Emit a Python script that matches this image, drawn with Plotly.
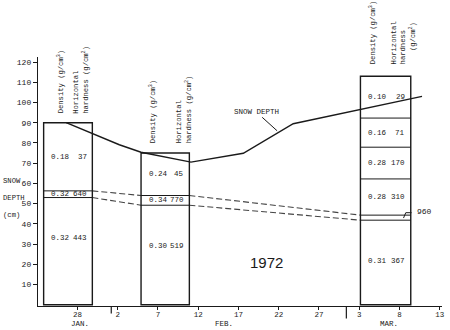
import plotly.graph_objects as go

# ---------------- data ----------------
# x axis = day of year 1972 (Jan 28 = 28, Feb 2 = 33, ..., Mar 13 = 73)
tick_days = [28, 33, 38, 43, 48, 53, 58, 63, 68, 73]
tick_text = ["28", "2", "7", "12", "17", "22", "27", "3", "8", "13"]
month_names = ["JAN.", "FEB.", "MAR."]
month_label_days = [28.3, 46.2, 66.7]
month_bounds = [32.2, 61.4]
y_ticks = [10, 20, 30, 40, 50, 60, 70, 80, 90, 100, 110, 120]

# snow depth curve
depth_day = [26.6, 29.9, 33.2, 35.9, 42.1, 48.6, 54.8, 70.8]
depth_cm = [90, 84.4, 79.1, 75.4, 70.5, 74.9, 89.5, 103]

# snow pits: horizontal extent (days) and layer boundaries (cm, top -> bottom)
pit_left = [23.8, 35.9, 63.15]
pit_right = [29.85, 41.9, 69.4]
pit1_bounds = [90, 56.3, 53.0, 0]
pit2_bounds = [75, 54.0, 49.2, 0]
pit3_bounds = [113, 92.3, 77.9, 62.2, 44.3, 41.8, 0]
pit1_density = ["0.18", "0.32", "0.32"]
pit2_density = ["0.24", "0.34", "0.30"]
pit3_density = ["0.10", "0.16", "0.28", "0.28", "", "0.31"]
pit1_hardness = ["37", "640", "443"]
pit2_hardness = ["45", "770", "519"]
pit3_hardness = ["29", "71", "170", "310", "960", "367"]
ice_layer_index = [1, 1, 4]
year_label = "1972"

pit_bounds = [pit1_bounds, pit2_bounds, pit3_bounds]
pit_density = [pit1_density, pit2_density, pit3_density]
pit_hardness = [pit1_hardness, pit2_hardness, pit3_hardness]

# ---------------- styling ----------------
INK = "#1a1a1a"
MONO = "Liberation Mono, Courier New, monospace"
dens_hdr_dx = [2.05, 1.45, 1.5]
hard_hdr_dx = [-1.4, -0.75, -1.5]
hdr_gap = [7, 8, 10]

fig = go.Figure()
shapes = []
annotations = []

# snow depth line
fig.add_trace(go.Scatter(x=depth_day, y=depth_cm, mode="lines",
                         line=dict(color=INK, width=1.4), hoverinfo="skip",
                         showlegend=False))

# dashed ice-layer correlation lines
ice_top = [b[i] for b, i in zip(pit_bounds, ice_layer_index)]
ice_bot = [b[i + 1] for b, i in zip(pit_bounds, ice_layer_index)]
for vals in (ice_top, ice_bot):
    xs, ys = [], []
    for k in range(len(pit_left) - 1):
        xs += [pit_right[k], pit_left[k + 1], None]
        ys += [vals[k], vals[k + 1], None]
    fig.add_trace(go.Scatter(x=xs, y=ys, mode="lines",
                             line=dict(color="#444444", width=1.1, dash="6px,3px"),
                             hoverinfo="skip", showlegend=False))

for k in range(3):
    L, R = pit_left[k], pit_right[k]
    b = pit_bounds[k]
    shapes.append(dict(type="rect", xref="x", yref="y", x0=L, x1=R, y0=0, y1=b[0],
                       line=dict(color=INK, width=1.4), fillcolor="rgba(0,0,0,0)"))
    for yb in b[1:-1]:
        shapes.append(dict(type="line", xref="x", yref="y", x0=L, x1=R, y0=yb, y1=yb,
                           line=dict(color=INK, width=1.0)))
    n = len(b) - 1
    for j in range(n):
        top, bot = b[j], b[j + 1]
        ymid = (top + bot) / 2 if j < n - 1 else top - 20
        if pit_density[k][j] == "":
            # thin ice layer with external label
            ymid = (top + bot) / 2
            fig.add_trace(go.Scatter(x=[R - 0.9, R - 0.62, R + 0.1],
                                     y=[ymid - 0.2, top + 1.2, top + 1.2],
                                     mode="lines", line=dict(color=INK, width=1.0),
                                     hoverinfo="skip", showlegend=False))
            annotations.append(dict(x=R + 0.5, y=top + 1.9, xref="x", yref="y",
                                    text=pit_hardness[k][j], showarrow=False,
                                    xanchor="left", yanchor="middle",
                                    font=dict(family=MONO, size=8, color=INK)))
            continue
        annotations.append(dict(x=L + 0.7, y=ymid, xref="x", yref="y",
                                text=pit_density[k][j], showarrow=False,
                                xanchor="left", yanchor="middle",
                                font=dict(family=MONO, size=7.5, color=INK)))
        annotations.append(dict(x=R - 0.42, y=ymid, xref="x", yref="y",
                                text=pit_hardness[k][j], showarrow=False,
                                xanchor="right", yanchor="middle",
                                font=dict(family=MONO, size=7.5, color=INK)))
    # rotated headers
    annotations.append(dict(x=L + dens_hdr_dx[k], y=b[0], xref="x", yref="y",
                            text="Density (g/cm<sup>3</sup>)", textangle=-90,
                            showarrow=False, xanchor="center", yanchor="bottom",
                            yshift=hdr_gap[k], font=dict(family=MONO, size=7.2, color=INK)))
    if k < 2:
        annotations.append(dict(x=R + hard_hdr_dx[k], y=b[0], xref="x", yref="y",
                                text="Horizontal<br>hardness (g/cm<sup>2</sup>)",
                                textangle=-90, align="left", showarrow=False,
                                xanchor="center", yanchor="bottom", yshift=hdr_gap[k],
                                font=dict(family=MONO, size=7.2, color=INK)))
    else:
        annotations.append(dict(x=R + hard_hdr_dx[k], y=b[0], xref="x", yref="y",
                                text="Horizontal<br>hardness",
                                textangle=-90, align="left", showarrow=False,
                                xanchor="center", yanchor="bottom", yshift=hdr_gap[k],
                                font=dict(family=MONO, size=7.2, color=INK)))
        annotations.append(dict(x=R + 0.2, y=b[0], xref="x", yref="y",
                                text="(g/cm<sup>2</sup>)",
                                textangle=-90, showarrow=False,
                                xanchor="center", yanchor="bottom", yshift=hdr_gap[k] + 13,
                                font=dict(family=MONO, size=7.2, color=INK)))

# month separators below the axis
for mb, ln in zip(month_bounds, [0.03, 0.05]):
    shapes.append(dict(type="line", xref="x", yref="paper", x0=mb, x1=mb, y0=0, y1=-ln,
                       line=dict(color=INK, width=1.2)))

for name, d in zip(month_names, month_label_days):
    annotations.append(dict(x=d, y=-0.072, xref="x", yref="paper", text=name,
                            showarrow=False, xanchor="center", yanchor="middle",
                            font=dict(family=MONO, size=7.5, color=INK)))

# y-axis title (stacked)
for txt, yv in zip(["SNOW", "DEPTH", "(cm)"], [61.2, 52.8, 44.2]):
    annotations.append(dict(x=-0.092, y=yv, xref="paper", yref="y", text=txt,
                            showarrow=False, xanchor="left", yanchor="middle",
                            font=dict(family=MONO, size=7.2, color=INK)))

# SNOW DEPTH label with leader
annotations.append(dict(x=52.8, y=86, xref="x", yref="y", text="SNOW DEPTH",
                        showarrow=True, arrowhead=0, arrowwidth=1, arrowcolor=INK,
                        ax=-21, ay=-19, font=dict(family=MONO, size=7.5, color=INK)))

annotations.append(dict(x=51.5, y=21, xref="x", yref="y", text=year_label,
                        showarrow=False, font=dict(family="Liberation Sans, Arial",
                                                   size=15, color=INK)))

fig.update_layout(
    width=450, height=330,
    margin=dict(l=38, r=5, t=57, b=24),
    paper_bgcolor="white", plot_bgcolor="white",
    shapes=shapes, annotations=annotations, showlegend=False,
    xaxis=dict(range=[23.1, 73.28], tickvals=tick_days, ticktext=tick_text,
               ticks="outside", ticklen=3, tickwidth=1.1, tickcolor=INK,
               ticklabelstandoff=-2,
               showline=True, linecolor=INK, linewidth=1.4, showgrid=False,
               zeroline=False, tickfont=dict(family=MONO, size=7.5, color=INK)),
    yaxis=dict(range=[-0.64, 122.5], tickvals=y_ticks, ticks="outside", ticklen=4,
               tickwidth=1.1, tickcolor=INK, showline=True, linecolor=INK,
               linewidth=1.4, showgrid=False, zeroline=False,
               tickfont=dict(family=MONO, size=8, color=INK)),
)

fig.write_html("out.html")
